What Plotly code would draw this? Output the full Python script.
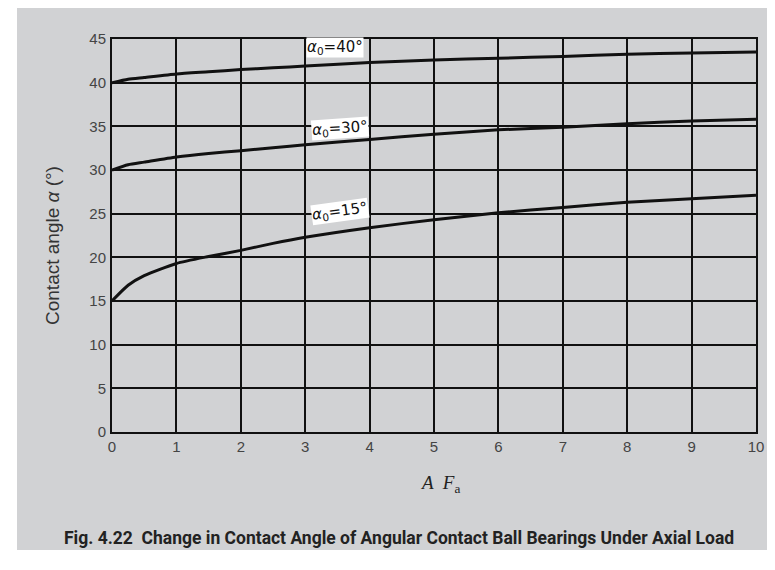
import plotly.graph_objects as go

x_vals = [0, 0.25, 0.5, 1, 1.5, 2, 2.5, 3, 4, 5, 6, 7, 8, 9, 10]
alpha_40 = [40.0, 40.4, 40.6, 41.0, 41.25, 41.5, 41.7, 41.9, 42.3, 42.6, 42.8, 43.0, 43.25, 43.4, 43.5]
alpha_30 = [30.0, 30.6, 30.9, 31.5, 31.9, 32.2, 32.55, 32.9, 33.5, 34.1, 34.6, 34.9, 35.3, 35.6, 35.8]
alpha_15 = [15.0, 16.8, 17.9, 19.3, 20.1, 20.8, 21.6, 22.3, 23.4, 24.3, 25.1, 25.7, 26.3, 26.7, 27.1]
curve_labels = ["<i>α</i><sub>0</sub>=40°", "<i>α</i><sub>0</sub>=30°", "<i>α</i><sub>0</sub>=15°"]
label_pos_x = [3.46, 3.54, 3.54]
label_pos_y = [44.0, 34.8, 25.2]
label_angle = [0, -4, -8]
x_ticks = list(range(0, 11))
y_ticks = list(range(0, 50, 5))

# page has an 8px body margin; screen coords -> figure coords
OFF = 8
W, H = 775 - OFF, 550 - OFF
ml = 112 - OFF
mt = 39 - OFF
mr = W - (756 - OFF)
mb = H - (432 - OFF)
pw, ph = W - ml - mr, H - mt - mb

def px(xs):
    return (xs - OFF - ml) / pw

def py(ys):
    return (H - mb - (ys - OFF)) / ph

fig = go.Figure()
for ys in (alpha_40, alpha_30, alpha_15):
    fig.add_trace(go.Scatter(x=x_vals, y=ys, mode="lines",
                             line=dict(color="#111111", width=3, shape="spline", smoothing=0.6),
                             showlegend=False, hoverinfo="skip"))

for t, lx, ly, ang in zip(curve_labels, label_pos_x, label_pos_y, label_angle):
    fig.add_annotation(x=lx, y=ly, text=t, showarrow=False, xref="x", yref="y",
                       textangle=ang, xanchor="center", yanchor="middle",
                       font=dict(family="DejaVu Sans", size=15, color="#111"),
                       bgcolor="white", borderpad=0)

fig.add_shape(type="rect", xref="paper", yref="paper",
              x0=px(17), x1=px(790), y0=py(600), y1=py(0),
              fillcolor="#d1d2d4", line=dict(width=0), layer="below")

fig.add_annotation(x=px(52), y=py(246), xref="paper", yref="paper",
                   xanchor="center", yanchor="middle",
                   text="Contact angle <i>α</i> (°)", textangle=-90, showarrow=False,
                   font=dict(family="Liberation Sans", size=19, color="#333"))
fig.add_annotation(x=px(440), y=py(484), xref="paper", yref="paper",
                   xanchor="center", yanchor="middle",
                   text="<i>A  F</i><sub>a</sub>", showarrow=False,
                   font=dict(family="Liberation Serif", size=19, color="#222"))
fig.add_annotation(x=px(399), y=py(538), xref="paper", yref="paper",
                   xanchor="center", yanchor="middle",
                   text="<b>Fig. 4.22  Change in Contact Angle of Angular Contact Ball Bearings Under Axial Load</b>",
                   showarrow=False,
                   font=dict(family="Roboto, Liberation Sans", size=17.5, color="#222"))

fig.update_xaxes(range=[0, 10], tickvals=x_ticks, ticktext=[str(v) for v in x_ticks],
                 showgrid=True, gridcolor="#111", gridwidth=2, zeroline=False,
                 showline=True, linecolor="#111", linewidth=2, mirror=True,
                 ticks="", ticklabelstandoff=0, automargin=False,
                 tickfont=dict(family="Liberation Sans", size=15, color="#444"))
fig.update_yaxes(range=[0, 45], tickvals=y_ticks, ticktext=[str(v) for v in y_ticks],
                 showgrid=True, gridcolor="#111", gridwidth=2, zeroline=False,
                 showline=True, linecolor="#111", linewidth=2, mirror=True,
                 ticks="", ticklabelstandoff=1, automargin=False,
                 tickfont=dict(family="Liberation Sans", size=15, color="#444"))

fig.update_layout(width=W, height=H, margin=dict(l=ml, r=mr, t=mt, b=mb, autoexpand=False),
                  paper_bgcolor="white", plot_bgcolor="white")
fig.write_html("out.html")
